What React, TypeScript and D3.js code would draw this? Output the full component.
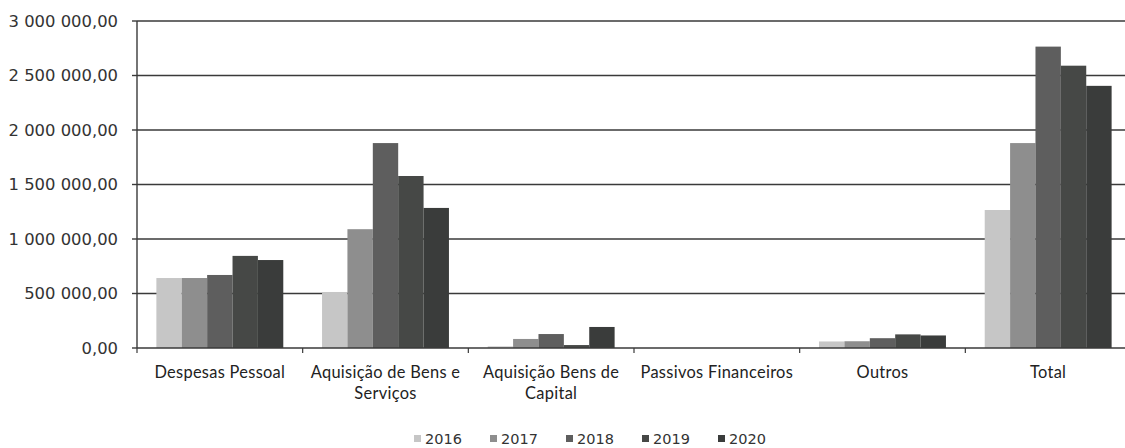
import React from "react";
import * as d3 from "d3";

const categories = [
  "Despesas Pessoal",
  "Aquisição de Bens e Serviços",
  "Aquisição Bens de Capital",
  "Passivos Financeiros",
  "Outros",
  "Total",
];
const categoryLines = [
  ["Despesas Pessoal"],
  ["Aquisição de Bens e", "Serviços"],
  ["Aquisição Bens de", "Capital"],
  ["Passivos Financeiros"],
  ["Outros"],
  ["Total"],
];
const years = ["2016", "2017", "2018", "2019", "2020"];
const v2016 = [642000, 514000, 15000, 0, 60000, 1266000];
const v2017 = [642000, 1090000, 83000, 0, 62000, 1880000];
const v2018 = [670000, 1880000, 128000, 0, 90000, 2765000];
const v2019 = [845000, 1578000, 27000, 0, 125000, 2590000];
const v2020 = [807000, 1285000, 193000, 0, 115000, 2405000];
const seriesValues = [v2016, v2017, v2018, v2019, v2020];
const yTicks = [0, 500000, 1000000, 1500000, 2000000, 2500000, 3000000];
const colors = ["#c6c6c6", "#8e8e8e", "#5e5e5e", "#464846", "#3a3c3b"];

const W = 1125;
const H = 448;
const left = 137;
const right = 1131;
const top = 21;
const bottom = 348;

function fmt(v: number): string {
  const s = d3.format(",.2f")(v);
  return s.replace(/,/g, " ").replace(/\.(\d\d)$/, ",$1");
}

export default function App() {
  const x = d3
    .scaleBand<string>()
    .domain(categories)
    .range([left, right])
    .paddingInner(0.234)
    .paddingOuter(0.117);
  const step = x.step();
  const xInner = d3
    .scaleBand<string>()
    .domain(years)
    .range([0, x.bandwidth()]);
  const y = d3.scaleLinear().domain([0, 3000000]).range([bottom, top]);

  return (
    <svg
      width={W}
      height={H}
      style={{ position: "absolute", left: 0, top: 0, background: "#fff" }}
    >
      <rect x={0} y={0} width={W} height={H} fill="#fff" />
      {yTicks.map((t) => (
        <g key={t}>
          {t > 0 && (
            <line
              x1={left}
              x2={right}
              y1={y(t)}
              y2={y(t)}
              stroke="#3a3a3a"
              strokeWidth={1.6}
            />
          )}
          <line x1={left - 5} x2={left} y1={y(t)} y2={y(t)} stroke="#3a3a3a" strokeWidth={1.4} />
          <text
            x={118}
            y={y(t)}
            dy="0.36em"
            textAnchor="end"
            fontFamily="DejaVu Sans"
            fontSize={16.4}
            fill="#333"
          >
            {fmt(t)}
          </text>
        </g>
      ))}
      {seriesValues.map((vals, si) =>
        categories.map((c, ci) => {
          const v = vals[ci];
          if (v <= 0) return null;
          return (
            <rect
              key={si + "-" + ci}
              x={(x(c) as number) + (xInner(years[si]) as number)}
              y={y(v)}
              width={xInner.bandwidth()}
              height={bottom - y(v)}
              fill={colors[si]}
            />
          );
        })
      )}
      <line x1={left} x2={left} y1={top} y2={bottom} stroke="#3a3a3a" strokeWidth={1.4} />
      <line x1={left} x2={right} y1={bottom} y2={bottom} stroke="#3a3a3a" strokeWidth={1.6} />
      {d3.range(categories.length + 1).map((i) => (
        <line
          key={"xt" + i}
          x1={left + i * step}
          x2={left + i * step}
          y1={bottom}
          y2={bottom + 5}
          stroke="#3a3a3a"
          strokeWidth={1.2}
        />
      ))}
      {categories.map((c, ci) => (
        <text
          key={"xl" + ci}
          x={(x(c) as number) + x.bandwidth() / 2}
          y={372}
          textAnchor="middle"
          fontFamily="Lato"
          fontSize={16.4}
          letterSpacing={0.3}
          fill="#222"
        >
          {categoryLines[ci].map((ln, li) => (
            <tspan key={li} x={(x(c) as number) + x.bandwidth() / 2} dy={li === 0 ? "0.35em" : 21}>
              {ln}
            </tspan>
          ))}
        </text>
      ))}
      {years.map((yr, i) => {
        const lx = 414 + i * 76;
        return (
          <g key={"lg" + yr}>
            <rect x={lx} y={435} width={7} height={7} fill={colors[i]} />
            <text
              x={lx + 11}
              y={438.5}
              dy="0.36em"
              fontFamily="DejaVu Sans"
              fontSize={14.5}
              fill="#333"
            >
              {yr}
            </text>
          </g>
        );
      })}
    </svg>
  );
}
